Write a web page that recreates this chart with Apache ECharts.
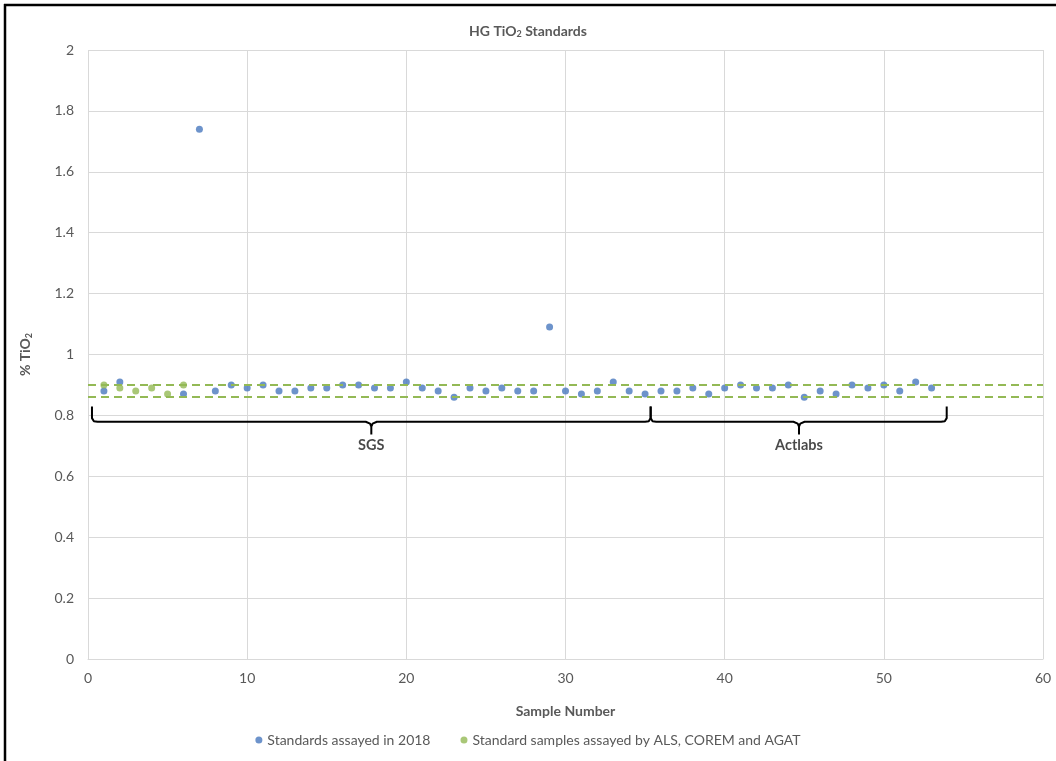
<!DOCTYPE html>
<html>
<head>
<meta charset="utf-8">
<script src="https://cdn.jsdelivr.net/npm/echarts@6/dist/echarts.min.js"></script>
<style>
html,body{margin:0;padding:0;background:#fff;}
#chart{width:1056px;height:761px;}
</style>
</head>
<body>
<div id="chart"></div>
<script>
// Sample numbers and % TiO2 values
const blueX = [1,2,6,7,8,9,10,11,12,13,14,15,16,17,18,19,20,21,22,23,24,25,26,27,28,29,30,31,32,33,34,35,36,37,38,39,40,41,42,43,44,45,46,47,48,49,50,51,52,53];
const blueY = [0.88,0.91,0.87,1.74,0.88,0.90,0.89,0.90,0.88,0.88,0.89,0.89,0.90,0.90,0.89,0.89,0.91,0.89,0.88,0.86,0.89,0.88,0.89,0.88,0.88,1.09,0.88,0.87,0.88,0.91,0.88,0.87,0.88,0.88,0.89,0.87,0.89,0.90,0.89,0.89,0.90,0.86,0.88,0.87,0.90,0.89,0.90,0.88,0.91,0.89];
const greenX = [1,2,3,4,5,6];
const greenY = [0.90,0.89,0.88,0.89,0.87,0.90];
// Acceptance limits (dashed lines)
const limits = [0.902, 0.863];
// Lab groupings (braces)
const braceLabels = ['SGS','Actlabs'];
const braceFrom = [0.25, 35.35];
const braceTo = [35.35, 53.95];
const braceMid = [17.8, 44.67];
const braceTop = 0.829, braceBase = 0.779, braceTick = 0.737, braceLabelY = 0.703;

const seriesNames = ['Standards assayed in 2018','Standard samples assayed by ALS, COREM and AGAT'];
const BLUE = '#4878BE', GREEN = '#93B955';
const FONT = 'Lato, "Open Sans", sans-serif';

function bracePoints(from, to, mid){
  return [
    [from, braceTop], [from, braceBase + 0.012], [from + 0.12, braceBase + 0.002], [from + 0.35, braceBase],
    [mid - 0.35, braceBase], [mid - 0.08, braceBase - 0.006], [mid, braceBase - 0.016], [mid, braceTick],
    [mid, braceBase - 0.016], [mid + 0.08, braceBase - 0.006], [mid + 0.35, braceBase],
    [to - 0.35, braceBase], [to - 0.12, braceBase + 0.002], [to, braceBase + 0.012], [to, braceTop]
  ];
}

const braceSeries = braceLabels.map((l, i) => ({
  type: 'line', name: 'brace-' + l, silent: true, showSymbol: false, symbol: 'none',
  data: bracePoints(braceFrom[i], braceTo[i], braceMid[i]),
  lineStyle: { color: '#000', width: 2 }, z: 3, animation: false
}));

const chart = echarts.init(document.getElementById('chart'));
chart.setOption({
  animation: false,
  textStyle: { fontFamily: FONT },
  title: {
    text: 'HG TiO{sub|2} Standards', left: 'center', top: 18,
    textStyle: {
      fontFamily: FONT, fontSize: 14, fontWeight: 'bold', color: '#595959',
      rich: { sub: { fontFamily: FONT, fontSize: 9, fontWeight: 'bold', color: '#595959', padding: [7, 0, 0, 0] } }
    }
  },
  grid: { left: 88, right: 13, top: 50, bottom: 102, containLabel: false },
  legend: {
    data: seriesNames, bottom: 9, left: 'center', itemGap: 30, icon: 'circle',
    itemWidth: 7, itemHeight: 7,
    textStyle: { fontFamily: FONT, fontSize: 14, color: '#595959' }
  },
  xAxis: {
    type: 'value', min: 0, max: 60, interval: 10,
    name: 'Sample Number', nameLocation: 'middle', nameGap: 45,
    nameTextStyle: { fontFamily: FONT, fontSize: 14, fontWeight: 'bold', color: '#595959' },
    axisLine: { show: true, lineStyle: { color: '#d9d9d9', width: 1 } },
    axisTick: { show: false },
    axisLabel: { fontFamily: FONT, fontSize: 14, color: '#595959', margin: 12 },
    splitLine: { show: true, lineStyle: { color: '#d9d9d9', width: 1 } }
  },
  yAxis: {
    type: 'value', min: 0, max: 2, interval: 0.2,
    name: '% TiO{sub|2}', nameLocation: 'middle', nameGap: 54, nameRotate: 90,
    nameTextStyle: {
      fontFamily: FONT, fontSize: 14, fontWeight: 'bold', color: '#595959',
      rich: { sub: { fontFamily: FONT, fontSize: 9, fontWeight: 'bold', color: '#595959', padding: [8, 0, 0, 0] } }
    },
    axisLine: { show: false },
    axisTick: { show: false },
    axisLabel: { fontFamily: FONT, fontSize: 14, color: '#595959', margin: 14,
      formatter: v => String(+v.toFixed(1)) },
    splitLine: { show: true, lineStyle: { color: '#d9d9d9', width: 1 } }
  },
  graphic: [
    { type: 'line', shape: { x1: 4, y1: 5, x2: 1056, y2: 5 }, style: { stroke: '#000', lineWidth: 2.5 }, silent: true },
    { type: 'line', shape: { x1: 5, y1: 4, x2: 5, y2: 761 }, style: { stroke: '#000', lineWidth: 2.5 }, silent: true }
  ],
  series: [
    {
      type: 'scatter', name: seriesNames[0],
      data: blueX.map((x, i) => [x, blueY[i]]),
      symbolSize: 7, itemStyle: { color: BLUE }, z: 4,
      markLine: {
        silent: true, symbol: ['none', 'none'], label: { show: false },
        lineStyle: { color: GREEN, type: [8, 5], width: 2 },
        data: limits.map(v => ({ yAxis: v }))
      }
    },
    {
      type: 'scatter', name: seriesNames[1],
      data: greenX.map((x, i) => [x, greenY[i]]),
      symbolSize: 7, itemStyle: { color: GREEN }, z: 5
    },
    ...braceSeries,
    {
      type: 'scatter', name: 'brace-labels', silent: true, symbolSize: 0,
      data: braceLabels.map((l, i) => ({ value: [braceMid[i], braceLabelY], name: l })),
      label: { show: true, position: 'inside', formatter: p => p.name,
        fontFamily: FONT, fontSize: 14.5, fontWeight: 'bold', color: '#1a1a1a' },
      z: 6
    }
  ]
});
</script>
</body>
</html>
